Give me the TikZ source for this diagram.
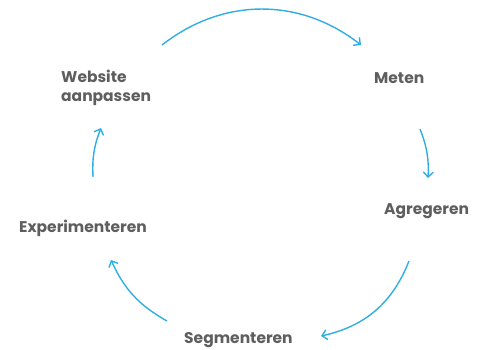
\documentclass[tikz,border=0pt]{standalone}
\usepackage{fontspec}
\setmainfont{Poppins}
\usetikzlibrary{arrows.meta}
\definecolor{lbl}{HTML}{5E5E5E}
\definecolor{arr}{HTML}{2EAEE3}
\begin{document}
\begin{tikzpicture}[x=1pt,y=-1pt,
  lab/.style={font=\bfseries\fontsize{15.5}{19.5}\selectfont, text=lbl, inner sep=0pt},
  cyc/.style={draw=arr, line width=1.4pt, -{Straight Barb[length=5pt,width=10pt,line width=1.4pt]}}]
\useasboundingbox (0,0) rectangle (489,349);
\node[lab, anchor=west, align=left] (web) at (61,88) {Website\\aanpassen};
\node[lab, anchor=west] (met) at (374,78) {Meten};
\node[lab, anchor=west] (agr) at (384,211) {Agregeren};
\node[lab, anchor=west] (exp) at (19,228) {Experimenteren};
\node[lab, anchor=west] (seg) at (184,340) {Segmenteren};
\coordinate (a1) at (162,45); \coordinate (b1) at (361,45);
\coordinate (a2) at (420,129); \coordinate (b2) at (428,178);
\coordinate (a3) at (409,261); \coordinate (b3) at (321,336);
\coordinate (a4) at (167,321); \coordinate (b4) at (111,260);
\coordinate (a5) at (93,177); \coordinate (b5) at (101,128);
\draw[cyc] (a1) to[bend left=38] (b1);
\draw[cyc] (a2) to[bend left=12] (b2);
\draw[cyc] (a3) to[bend left=28] (b3);
\draw[cyc] (a4) to[bend left=18] (b4);
\draw[cyc] (a5) to[bend left=12] (b5);
\end{tikzpicture}
\end{document}
